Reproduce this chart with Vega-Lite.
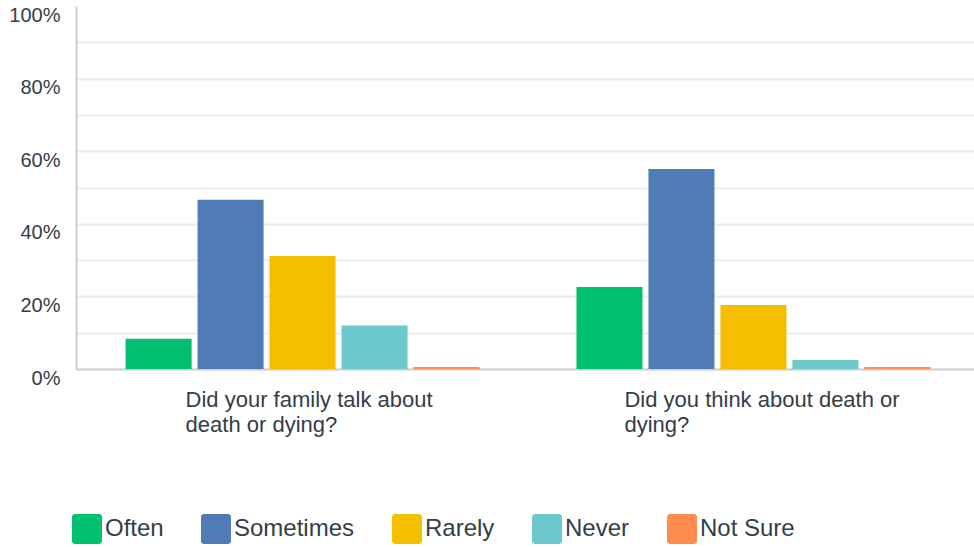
{
  "$schema": "https://vega.github.io/schema/vega-lite/v6.json",
  "width": 904,
  "height": 363,
  "autosize": "none",
  "padding": {"left": 76, "top": 6, "right": 0, "bottom": 178},
  "background": "white",
  "config": {
    "view": {"stroke": null},
    "font": "Liberation Sans",
    "axis": {"labelColor": "#333e48", "labelFont": "Liberation Sans"},
    "legend": {"labelColor": "#333e48", "labelFont": "Liberation Sans"}
  },
  "data": {
    "values": [
      {"question": "Did your family talk about death or dying?", "answer": "Often", "share": 0.083},
      {"question": "Did your family talk about death or dying?", "answer": "Sometimes", "share": 0.466},
      {"question": "Did your family talk about death or dying?", "answer": "Rarely", "share": 0.311},
      {"question": "Did your family talk about death or dying?", "answer": "Never", "share": 0.12},
      {"question": "Did your family talk about death or dying?", "answer": "Not Sure", "share": 0.0055},
      {"question": "Did you think about death or dying?", "answer": "Often", "share": 0.226},
      {"question": "Did you think about death or dying?", "answer": "Sometimes", "share": 0.551},
      {"question": "Did you think about death or dying?", "answer": "Rarely", "share": 0.176},
      {"question": "Did you think about death or dying?", "answer": "Never", "share": 0.025},
      {"question": "Did you think about death or dying?", "answer": "Not Sure", "share": 0.0055}
    ]
  },
  "mark": {"type": "bar"},
  "encoding": {
    "x": {
      "field": "question",
      "type": "nominal",
      "sort": null,
      "scale": {"paddingInner": 0.215, "paddingOuter": 0.11},
      "axis": {
        "title": null,
        "labelAngle": 0,
        "ticks": false,
        "domainColor": "#cfcfcf",
        "domainWidth": 2,
        "labelFontSize": 22,
        "labelLineHeight": 25,
        "labelAlign": "left",
        "labelBaseline": "top",
        "labelPadding": 20,
        "labelLimit": 0,
        "labelOffset": {"condition": {"test": "datum.value === 'Did your family talk about death or dying?'", "value": -117}, "value": -129},
        "labelExpr": "datum.value === 'Did your family talk about death or dying?' ? ['Did your family talk about', 'death or dying?'] : ['Did you think about death or', 'dying?']"
      }
    },
    "xOffset": {
      "field": "answer",
      "type": "nominal",
      "sort": ["Often", "Sometimes", "Rarely", "Never", "Not Sure"],
      "scale": {"paddingInner": 0.083, "paddingOuter": 0}
    },
    "y": {
      "field": "share",
      "type": "quantitative",
      "scale": {"domain": [0, 1], "nice": false},
      "axis": {
        "title": null,
        "values": [0, 0.1, 0.2, 0.3, 0.4, 0.5, 0.6, 0.7, 0.8, 0.9, 1],
        "labelExpr": "round(datum.value * 100) % 20 === 0 ? format(datum.value, '.0%') : ''",
        "ticks": false,
        "labelFontSize": 20,
        "labelPadding": 16,
        "labelOffset": 9,
        "domainColor": "#d0d0d0",
        "domainWidth": 2,
        "gridColor": "#ebebeb",
        "gridWidth": 2,
        "gridOpacity": {"condition": {"test": "datum.value >= 1", "value": 0}, "value": 1}
      }
    },
    "color": {
      "field": "answer",
      "type": "nominal",
      "scale": {
        "domain": ["Often", "Sometimes", "Rarely", "Never", "Not Sure"],
        "range": ["#00bf6f", "#507cb6", "#f6be00", "#6bc8cd", "#ff8b4f"]
      },
      "legend": {
        "title": null,
        "orient": "none",
        "direction": "horizontal",
        "legendX": -4,
        "legendY": 508,
        "padding": 0,
        "labelFontSize": 24,
        "labelOffset": 3,
        "columnPadding": 37,
        "symbolSize": 900,
        "symbolStrokeWidth": 0,
        "symbolType": "M-0.8,-1H0.8A0.2,0.2 0 0 1 1,-0.8V0.8A0.2,0.2 0 0 1 0.8,1H-0.8A0.2,0.2 0 0 1 -1,0.8V-0.8A0.2,0.2 0 0 1 -0.8,-1Z"
      }
    }
  }
}
